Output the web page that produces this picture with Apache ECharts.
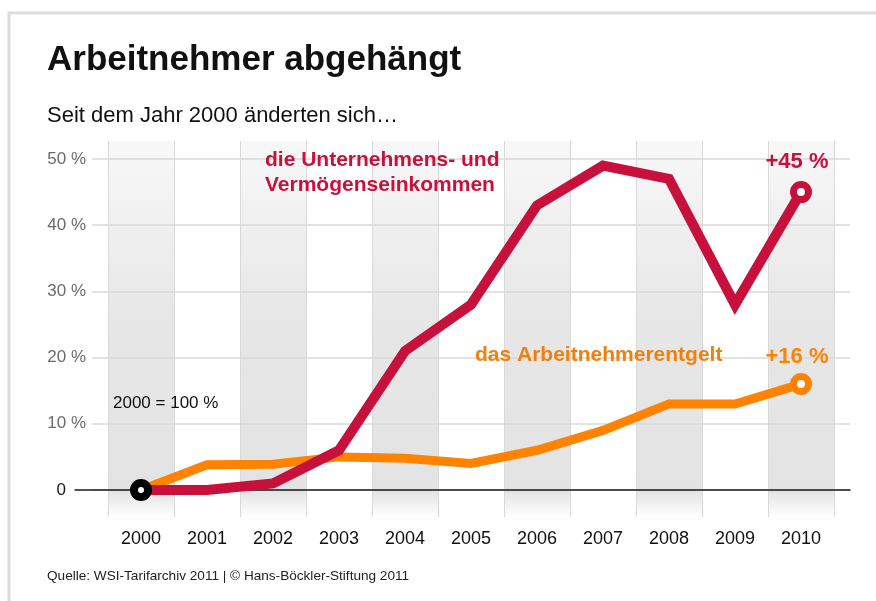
<!DOCTYPE html>
<html lang="de">
<head>
<meta charset="UTF-8">
<script src="https://cdn.jsdelivr.net/npm/echarts@6/dist/echarts.min.js"></script>
<title>Arbeitnehmer abgehängt</title>
<style>html,body{margin:0;padding:0;background:#fff}</style>
</head>
<body>
<div id="chart" style="width:876px;height:601px;"></div>
<script>
// Werte in Prozent gegenüber 2000 (2000 = 100 %)
var years = ['2000', '2001', '2002', '2003', '2004', '2005', '2006', '2007', '2008', '2009', '2010'];
var einkommen = [0, 0, 1, 6, 21, 28, 43, 49, 47, 28, 45];
var entgelt = [0, 3.8, 3.9, 5, 4.8, 4, 6, 9, 13, 13, 16];
var yMax = 50;
var yStep = 10;

var RED = '#c8103c';
var ORANGE = '#ff8200';
var FONT = '"Liberation Sans", Arial, sans-serif';

var bandFill = {
  type: 'linear', x: 0, y: 0, x2: 0, y2: 1,
  colorStops: [
    { offset: 0, color: '#f8f8f8' },
    { offset: 0.45, color: '#e7e7e7' },
    { offset: 0.93, color: '#e3e3e3' },
    { offset: 1, color: '#ffffff' }
  ]
};

function pct(v) { return v + ' %'; }

// nur Start- und Endpunkt bekommen einen Ring
function buildData(values, color, endLabel, labelDist, startRing) {
  return values.map(function (v, i) {
    if (i === values.length - 1) {
      return {
        value: v,
        symbol: 'circle',
        symbolSize: 15,
        itemStyle: { color: '#fff', borderColor: color, borderWidth: 7 },
        label: {
          show: true, position: 'top', distance: labelDist, offset: [-4, 0],
          formatter: endLabel, color: color, fontWeight: 'bold', fontSize: 22, fontFamily: FONT
        }
      };
    }
    if (i === 0 && startRing) {
      return {
        value: v,
        symbol: 'circle',
        symbolSize: 14,
        itemStyle: { color: '#fff', borderColor: '#000', borderWidth: 8 }
      };
    }
    return v;
  });
}

var chart = echarts.init(document.getElementById('chart'));

var option = {
  animation: false,
  backgroundColor: '#fff',
  textStyle: { fontFamily: FONT },
  grid: [
    { left: 108, right: 42, top: 141, bottom: 84 },   // Hintergrundstreifen
    { left: 92, right: 26, top: 159, bottom: 111 },   // Gitterlinien
    { left: 75, right: 26, top: 159, bottom: 111 },   // Nulllinie
    { left: 108, right: 42, top: 159, bottom: 111 }   // Linien
  ],
  xAxis: [
    {
      gridIndex: 0, type: 'category', data: years, boundaryGap: true, z: 0,
      axisLine: { show: false }, axisTick: { show: false }, axisLabel: { show: false },
      splitLine: { show: true, lineStyle: { color: '#d9d9d9', width: 1 } },
      splitArea: { show: true, areaStyle: { color: [bandFill, 'rgba(255,255,255,0)'] } }
    },
    { gridIndex: 1, type: 'value', show: false },
    {
      gridIndex: 2, type: 'category', data: [''], z: 1,
      axisLine: { show: true, lineStyle: { color: '#1a1a1a', width: 1.5 } },
      axisTick: { show: false }, axisLabel: { show: false }, splitLine: { show: false }
    },
    {
      gridIndex: 3, type: 'category', data: years, boundaryGap: true,
      axisLine: { show: false }, axisTick: { show: false },
      axisLabel: { color: '#111', fontSize: 18, margin: 40 }
    }
  ],
  yAxis: [
    { gridIndex: 0, type: 'value', min: 0, max: 1, show: false },
    {
      gridIndex: 1, type: 'value', min: 0, max: yMax, interval: yStep, z: 1,
      axisLine: { show: false }, axisTick: { show: false },
      axisLabel: {
        color: '#6b6b6b', fontSize: 17, margin: 6,
        formatter: function (v) { return v === 0 ? '' : pct(v); }
      },
      splitLine: { lineStyle: { color: '#d9d9d9', width: 1.5 } }
    },
    {
      gridIndex: 2, type: 'value', min: 0, max: yMax, interval: yStep,
      axisLine: { show: false }, axisTick: { show: false }, splitLine: { show: false },
      axisLabel: {
        color: '#1a1a1a', fontSize: 17, margin: 9,
        formatter: function (v) { return v === 0 ? '0' : ''; }
      }
    },
    { gridIndex: 3, type: 'value', min: 0, max: yMax, show: false }
  ],
  series: [
    {
      name: 'das Arbeitnehmerentgelt', type: 'line', xAxisIndex: 3, yAxisIndex: 3, z: 3,
      symbol: 'none',
      data: buildData(entgelt, ORANGE, '+16 %', 5, false),
      lineStyle: { color: ORANGE, width: 9, join: 'miter', cap: 'butt' },
      emphasis: { disabled: true }
    },
    {
      name: 'die Unternehmens- und Vermögenseinkommen', type: 'line', xAxisIndex: 3, yAxisIndex: 3, z: 4,
      symbol: 'none',
      data: buildData(einkommen, RED, '+45 %', 8, true),
      lineStyle: { color: RED, width: 10, join: 'miter', cap: 'butt' },
      emphasis: { disabled: true }
    }
  ],
  graphic: [
    {
      type: 'rect', z: 10, silent: true,
      shape: { x: 9, y: 13, width: 900, height: 700 },
      style: { fill: 'none', stroke: '#dcdcdc', lineWidth: 3 }
    },
    {
      type: 'text', z: 10,
      style: { x: 47, y: 60, text: 'Arbeitnehmer abgehängt', font: 'bold 35px ' + FONT, fill: '#111', verticalAlign: 'middle' }
    },
    {
      type: 'text', z: 10,
      style: { x: 47, y: 116, text: 'Seit dem Jahr 2000 änderten sich…', font: '22px ' + FONT, fill: '#111', verticalAlign: 'middle' }
    },
    {
      type: 'text', z: 10,
      style: { x: 265, y: 148, text: 'die Unternehmens- und\nVermögenseinkommen', font: 'bold 21px ' + FONT, lineHeight: 25, fill: RED, verticalAlign: 'top' }
    },
    {
      type: 'text', z: 10,
      style: { x: 475, y: 355, text: 'das Arbeitnehmerentgelt', font: 'bold 21px ' + FONT, fill: '#f0800c', verticalAlign: 'middle' }
    },
    {
      type: 'text', z: 10,
      style: { x: 113, y: 403, text: '2000 = 100 %', font: '17px ' + FONT, fill: '#111', verticalAlign: 'middle' }
    },
    {
      type: 'text', z: 10,
      style: { x: 47, y: 576, text: 'Quelle: WSI-Tarifarchiv 2011 | © Hans-Böckler-Stiftung 2011', font: '13.6px ' + FONT, fill: '#222', verticalAlign: 'middle' }
    }
  ]
};

chart.setOption(option);
</script>
</body>
</html>
